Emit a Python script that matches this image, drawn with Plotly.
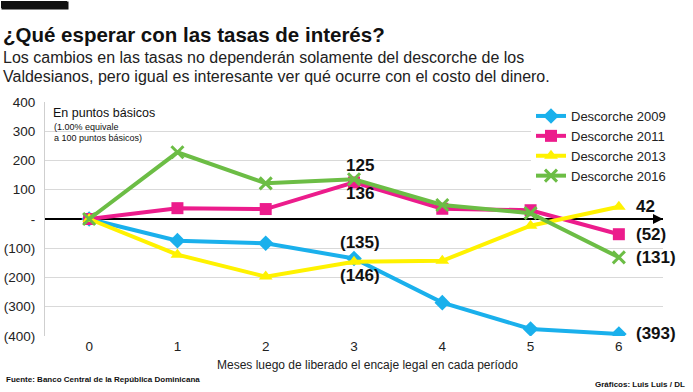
import plotly.graph_objects as go

months = [0, 1, 2, 3, 4, 5, 6]
s2009 = [0, -74, -83, -135, -286, -376, -393]
s2011 = [0, 37, 34, 125, 35, 30, -52]
s2013 = [0, -122, -197, -146, -143, -23, 42]
s2016 = [0, 228, 122, 136, 48, 20, -131]

names = ["Descorche 2009", "Descorche 2011", "Descorche 2013", "Descorche 2016"]
colors = ["#1ab0ec", "#ec1c8c", "#fff200", "#6cbd45"]
symbols = ["diamond", "square", "triangle-up", "x-thin"]
series = [s2009, s2011, s2013, s2016]

ytick_vals = [-400, -300, -200, -100, 0, 100, 200, 300, 400]
ytick_text = ["(400)", "(300)", "(200)", "(100)", "-", "100", "200", "300", "400"]

title = "¿Qué esperar con las tasas de interés?"
subtitle1 = "Los cambios en las tasas no dependerán solamente del descorche de los"
subtitle2 = "Valdesianos, pero igual es interesante ver qué ocurre con el costo del dinero."
xtitle = "Meses luego de liberado el encaje legal en cada período"
source = "Fuente: Banco Central de la República Dominicana"
credit = "Gráficos: Luis Luis / DL"

FONT = "Liberation Sans, Arial, sans-serif"

W, H = 693, 392
L, R, T, B = 45, 30, 102, 56
PW, PH = W - L - R, H - T - B


def px(xp):
    return (xp - L) / PW


def py(yp):
    return (H - B - yp) / PH


def fmt(v):
    return f"({abs(v)})" if v < 0 else f"{v}"


fig = go.Figure()
for name, col, sym, ys in zip(names, colors, symbols, series):
    mk = dict(symbol=sym, size=12, color=col)
    if sym == "x-thin":
        mk["line"] = dict(color=col, width=3)
    fig.add_trace(go.Scatter(
        x=months, y=ys, name=name, mode="lines+markers",
        line=dict(color=col, width=4), marker=mk,
    ))

annotations = []
LABEL_FONT = dict(family=FONT, size=17, color="#111", weight="bold")
# end-of-series labels
for ys in [s2013, s2011, s2016, s2009]:
    annotations.append(dict(
        x=months[-1], y=ys[-1], text=fmt(ys[-1]), showarrow=False,
        xanchor="left", yanchor="middle", xshift=15, font=LABEL_FONT,
    ))
# labels at month 3
for ys, shift in [(s2011, 17), (s2016, -14), (s2009, 16), (s2013, -14)]:
    annotations.append(dict(
        x=months[3], y=ys[3], text=fmt(ys[3]), showarrow=False,
        xanchor="center", yanchor="middle", xshift=6, yshift=shift, font=LABEL_FONT,
    ))

# zero-line arrow
annotations.append(dict(
    x=6.5, y=0, ax=6.35, ay=0, axref="x", ayref="y", xref="x", yref="y",
    showarrow=True, arrowhead=2, arrowsize=1, arrowwidth=2, arrowcolor="#000", text="",
))

# unit note
annotations += [
    dict(xref="paper", yref="paper", x=px(51), y=py(113), text="En puntos básicos",
         showarrow=False, xanchor="left", yanchor="middle",
         font=dict(family=FONT, size=12.5, color="#111")),
    dict(xref="paper", yref="paper", x=px(52), y=py(127), text="(1.00% equivale",
         showarrow=False, xanchor="left", yanchor="middle",
         font=dict(family=FONT, size=9, color="#111")),
    dict(xref="paper", yref="paper", x=px(52), y=py(138), text="a 100 puntos básicos)",
         showarrow=False, xanchor="left", yanchor="middle",
         font=dict(family=FONT, size=9, color="#111")),
]

# titles
annotations += [
    dict(xref="paper", yref="paper", x=px(1), y=py(35), text=title, showarrow=False,
         xanchor="left", yanchor="middle",
         font=dict(family=FONT, size=20.5, color="#111", weight="bold")),
    dict(xref="paper", yref="paper", x=px(1), y=py(57), text=subtitle1, showarrow=False,
         xanchor="left", yanchor="middle",
         font=dict(family=FONT, size=16, color="#222")),
    dict(xref="paper", yref="paper", x=px(1), y=py(77), text=subtitle2, showarrow=False,
         xanchor="left", yanchor="middle",
         font=dict(family=FONT, size=16, color="#222")),
    dict(xref="paper", yref="paper", x=px(368), y=py(365), text=xtitle, showarrow=False,
         xanchor="center", yanchor="middle",
         font=dict(family=FONT, size=12, color="#222")),
    dict(xref="paper", yref="paper", x=px(4), y=py(379), text=source, showarrow=False,
         xanchor="left", yanchor="middle",
         font=dict(family=FONT, size=8, color="#111", weight="bold")),
    dict(xref="paper", yref="paper", x=px(687), y=py(384), text=credit, showarrow=False,
         xanchor="right", yanchor="middle",
         font=dict(family=FONT, size=8, color="#111", weight="bold")),
    # decorative black bar at top-left
    dict(xref="paper", yref="paper", x=px(1), y=py(1), text=" ", showarrow=False,
         xanchor="left", yanchor="top", width=66, height=7, borderpad=0,
         bgcolor="#111111", font=dict(size=4)),
]

shapes = [
    dict(type="rect", xref="paper", yref="paper", x0=px(1), x1=px(67), y0=py(8), y1=py(1),
         fillcolor="#111111", line=dict(width=0), layer="above"),
    dict(type="rect", xref="paper", yref="paper", x0=px(46), x1=px(163), y0=py(146), y1=py(102),
         fillcolor="white", line=dict(width=0), layer="between"),
]

fig.update_layout(
    width=W, height=H, margin=dict(l=L, r=R, t=T, b=B, autoexpand=False),
    paper_bgcolor="white", plot_bgcolor="white",
    showlegend=True,
    legend=dict(x=px(531), y=py(101), xanchor="left", yanchor="top",
                bgcolor="white", borderwidth=0, tracegroupgap=0,
                font=dict(family=FONT, size=13, color="#222"),
                itemwidth=30),
    annotations=annotations, shapes=shapes,
    font=dict(family=FONT),
)
fig.update_xaxes(range=[-0.5, 6.5], tickvals=months, showgrid=False, zeroline=False,
                 showline=False, ticks="", automargin=False,
                 tickfont=dict(family=FONT, size=13.5, color="#222"))
fig.update_yaxes(range=[-400, 400], tickvals=ytick_vals, ticktext=ytick_text,
                 showgrid=True, gridcolor="#d9d9d9", gridwidth=1,
                 zeroline=True, zerolinecolor="#000", zerolinewidth=2,
                 showline=True, linecolor="#cfcfcf", linewidth=1, ticks="",
                 ticklabelstandoff=6, automargin=False,
                 tickfont=dict(family=FONT, size=13.5, color="#222"))

fig.write_html(
    "out.html",
    config={"displayModeBar": False},
    post_script="document.body.style.margin='0';document.body.style.overflow='hidden';",
)
